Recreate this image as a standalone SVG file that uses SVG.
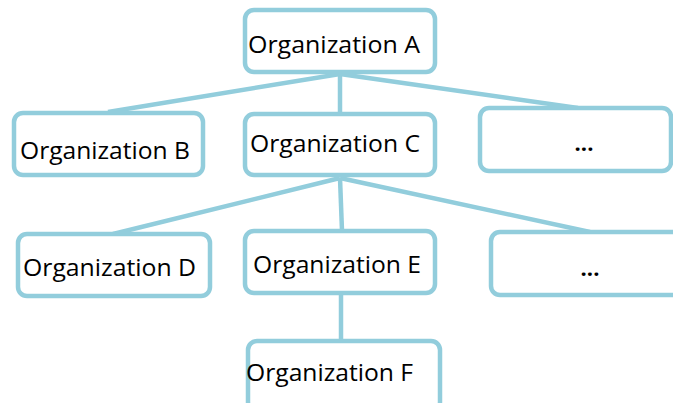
<svg xmlns="http://www.w3.org/2000/svg" width="673" height="403" viewBox="0 0 673 403">
<style>
.box{fill:#fff;stroke:#92CDDC;stroke-width:4.5}
.lbl{font-family:"Open Sans","Noto Sans",sans-serif;font-size:24px;fill:#000}
.dots{font-family:"Open Sans","Noto Sans",sans-serif;font-size:22px;font-weight:bold;fill:#000}
.conn line{stroke:#92CDDC;stroke-width:4.5}
</style>
<rect width="673" height="403" fill="#fff"/>
<g class="conn">
<line x1="340" y1="74" x2="108" y2="112"/>
<line x1="340" y1="74" x2="340" y2="113"/>
<line x1="340" y1="74" x2="578" y2="108"/>
<line x1="340" y1="178" x2="113" y2="234"/>
<line x1="340" y1="178" x2="342" y2="231"/>
<line x1="340" y1="178" x2="590" y2="232"/>
<line x1="341" y1="294" x2="341" y2="341"/>
</g>
<g id="nodeA"><rect class="box" x="245" y="10" width="190" height="62" rx="9"/><text class="lbl" x="248" y="53" textLength="172" lengthAdjust="spacingAndGlyphs">Organization A</text></g>
<g id="nodeB"><rect class="box" x="14" y="113" width="189" height="62" rx="9"/><text class="lbl" x="20" y="159" textLength="170" lengthAdjust="spacingAndGlyphs">Organization B</text></g>
<g id="nodeC"><rect class="box" x="245" y="114" width="190" height="61" rx="9"/><text class="lbl" x="250" y="152" textLength="170" lengthAdjust="spacingAndGlyphs">Organization C</text></g>
<g id="nodeDots1"><rect class="box" x="480" y="108" width="191" height="63" rx="9"/><text class="dots" x="584" y="151" text-anchor="middle">...</text></g>
<g id="nodeD"><rect class="box" x="18" y="234" width="192" height="62" rx="9"/><text class="lbl" x="23" y="276" textLength="173" lengthAdjust="spacingAndGlyphs">Organization D</text></g>
<g id="nodeE"><rect class="box" x="245" y="231" width="190" height="62" rx="9"/><text class="lbl" x="253" y="273" textLength="168" lengthAdjust="spacingAndGlyphs">Organization E</text></g>
<g id="nodeDots2"><rect class="box" x="491" y="232" width="200" height="63" rx="9"/><text class="dots" x="590" y="276" text-anchor="middle">...</text></g>
<g id="nodeF"><rect class="box" x="248" y="341" width="192" height="70" rx="9"/><text class="lbl" x="246" y="381" textLength="167" lengthAdjust="spacingAndGlyphs">Organization F</text></g>
</svg>
